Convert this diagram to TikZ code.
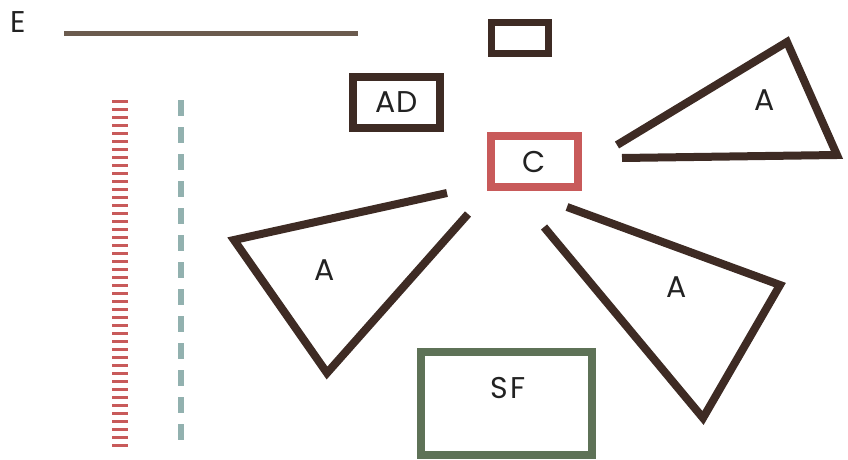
\documentclass[tikz,border=0pt]{standalone}
\usepackage{fontspec}
\setmainfont{Poppins}
\definecolor{bark}{HTML}{3E2B24}
\definecolor{brick}{HTML}{C85A5A}
\definecolor{moss}{HTML}{5E7257}
\definecolor{taupe}{HTML}{6B5B4E}
\definecolor{sage}{HTML}{92B1AF}
\definecolor{ink}{HTML}{222222}
\tikzset{
  box/.style={draw, inner sep=0pt, line width=#1},
  box/.default=8pt,
  wedge/.style={draw=bark, line width=8pt},
  tag/.style={text=ink, font=\fontsize{30}{30}\selectfont, inner sep=0pt}
}
\begin{document}
\begin{tikzpicture}[x=1pt, y=-1pt]
\useasboundingbox (0,0) rectangle (848,460);
% legend
\node[tag, anchor=west] (e) at (10,22) {E};
\draw[taupe, line width=5pt] (64,34) -- (358,34);
\draw[brick, line width=16pt, dash pattern=on 3pt off 5pt] (120,100) -- (120,447);
\draw[sage, line width=6pt, dash pattern=on 16pt off 11pt] (181,100) -- (181,447);
% boxes
\node[box=7pt, draw=bark, minimum width=57pt, minimum height=31pt] (top) at (520,38) {};
\node[box, draw=bark, minimum width=87pt, minimum height=51pt, tag] (ad) at (396.5,102.5) {AD};
\node[box, draw=brick, minimum width=87pt, minimum height=51pt, tag] (c) at (534.5,161.5) {C};
\node[box, draw=moss, minimum width=171pt, minimum height=103pt] (sf) at (506.5,403.5) {};
\node[tag] (sflabel) at (508,388) {S\kern2pt F};
% wedges
\draw[wedge] (617,145) -- (787,42) -- (837,155) -- (622,158);
\node[tag] (a1) at (765,100) {A};
\draw[wedge] (447,193) -- (234,240) -- (327,373) -- (468,214);
\node[tag] (a2) at (325,270) {A};
\draw[wedge] (567,207) -- (780,285) -- (703,418) -- (544,227);
\node[tag] (a3) at (677,287) {A};
\end{tikzpicture}
\end{document}
